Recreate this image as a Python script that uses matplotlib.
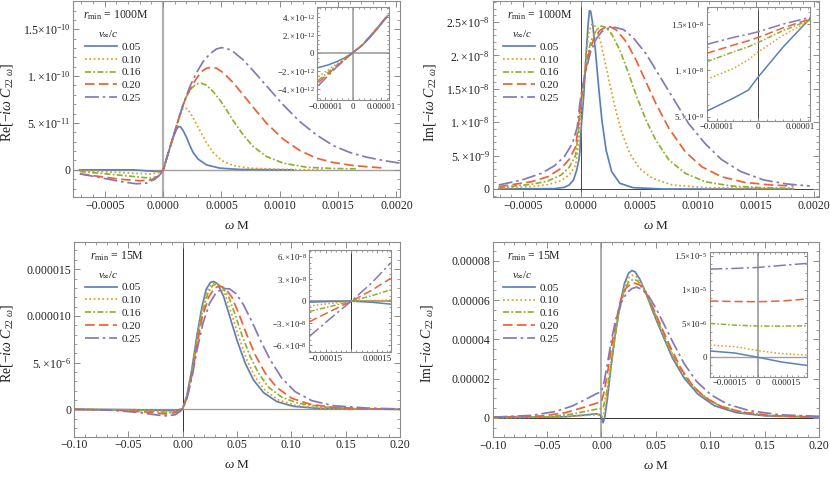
import matplotlib
matplotlib.use("Agg")
import matplotlib.pyplot as plt
from matplotlib.lines import Line2D
from matplotlib.ticker import FixedLocator, FixedFormatter, AutoMinorLocator

plt.rcParams['font.family'] = ['Liberation Serif', 'DejaVu Serif']
plt.rcParams['mathtext.fontset'] = 'custom'
plt.rcParams['mathtext.rm'] = 'Liberation Serif'
plt.rcParams['mathtext.it'] = 'Liberation Serif:italic'
plt.rcParams['mathtext.bf'] = 'Liberation Serif:bold'

speeds = ['0.05', '0.10', '0.16', '0.20', '0.25']
colors = ['#5E81B5', '#E19C24', '#8FB032', '#EB6235', '#8778B3']
styles = ['-', (0, (1, 1.5)), (0, (3.5, 1.3, 1, 1.3)), (0, (5.5, 2.5)), (0, (8, 2.2, 1.5, 2.2))]

# ---- r_min = 1000M, real part (x in 1e-5, y in 1e-11)
tl_blue_x = [-71.4, -25.7, -14.3, -2.9, 0, 2.9, 5.7, 8.6, 10.9, 12.9, 14.9, 17.1, 20.0, 22.9, 25.7, 30.0, 37.1, 48.6, 65.7, 111.4]
tl_blue_y = [0, 0, -0.11, -0.18, -0.04, 1.17, 2.31, 3.45, 4.15, 4.62, 4.58, 4.19, 3.48, 2.59, 1.85, 1.14, 0.53, 0.18, 0.04, 0]
tl_orange_x = [-71.4, -48.6, -25.7, -11.4, -4.3, 0, 2.9, 5.7, 8.6, 11.4, 14.3, 17.1, 20.0, 22.9, 25.7, 31.4, 37.1, 42.9, 50.0, 60.0, 74.3, 102.9, 137.1]
tl_orange_y = [-0.07, -0.21, -0.36, -0.43, -0.32, -0.07, 1.17, 2.31, 3.45, 4.55, 5.75, 6.6, 6.55, 6.15, 5.55, 4.19, 2.91, 1.85, 1.0, 0.46, 0.18, 0.04, 0]
tl_green_x = [-71.4, -48.6, -25.7, -11.4, -4.3, 0, 2.9, 5.7, 8.6, 11.4, 14.3, 17.1, 20.0, 24.3, 28.6, 32.9, 37.1, 42.9, 48.6, 54.3, 60.0, 68.6, 77.1, 88.6, 102.9, 122.9, 145.7, 165.7]
tl_green_y = [-0.18, -0.43, -0.71, -0.89, -0.71, -0.07, 1.17, 2.35, 3.52, 4.69, 5.86, 6.93, 7.82, 8.71, 9.17, 9.24, 9.03, 8.35, 7.46, 6.40, 5.26, 3.73, 2.49, 1.42, 0.71, 0.28, 0.14, 0.11]
tl_red_x = [-71.4, -54.3, -37.1, -20.0, -10.0, -4.3, 0, 2.9, 5.7, 8.6, 11.4, 14.3, 17.1, 20.0, 24.3, 28.6, 32.9, 37.1, 41.4, 45.7, 51.4, 60.0, 68.6, 77.1, 88.6, 102.9, 117.1, 131.4, 145.7, 162.9, 187.1]
tl_red_y = [-0.43, -0.71, -1.0, -1.17, -1.07, -0.71, -0.07, 1.17, 2.35, 3.52, 4.69, 5.86, 6.93, 7.82, 8.89, 9.77, 10.48, 10.84, 10.95, 10.84, 10.38, 9.31, 8.0, 6.68, 4.98, 3.27, 2.06, 1.24, 0.78, 0.46, 0.21]
tl_purple_x = [-71.4, -54.3, -37.1, -22.9, -14.3, -7.1, -2.9, 0, 2.9, 5.7, 8.6, 11.4, 14.3, 18.6, 22.9, 28.6, 34.3, 40.0, 45.7, 50.0, 54.3, 60.0, 68.6, 77.1, 88.6, 102.9, 117.1, 131.4, 145.7, 160.0, 174.3, 188.6, 202.9]
tl_purple_y = [-0.43, -0.82, -1.24, -1.49, -1.42, -1.0, -0.53, -0.07, 1.17, 2.35, 3.52, 4.69, 5.86, 7.46, 8.89, 10.38, 11.55, 12.37, 12.9, 13.04, 12.97, 12.62, 11.73, 10.59, 8.96, 6.93, 5.15, 3.73, 2.59, 1.85, 1.35, 1.0, 0.71]

# ---- r_min = 1000M, imaginary part (x in 1e-5, y in 1e-9)
tr_blue_x = [-70.8, -23.0, -14.6, -10.4, -6.7, -3.9, -2.0, -1.24, 0, 2.25, 4.2, 5.9, 7.0, 8.1, 9.6, 12.1, 14.9, 17.7, 21.3, 26.1, 33.1, 44.4, 69.7, 182.0]
tr_blue_y = [0, 0.05, 0.25, 0.6, 1.34, 2.84, 4.4, 5.6, 9.3, 14.3, 20.3, 24.7, 26.7, 26.6, 25.0, 20.8, 15.3, 10.3, 5.8, 2.6, 0.85, 0.2, 0, 0]
tr_orange_x = [-70.8, -42.7, -28.7, -17.4, -10.4, -4.8, -2.0, -1.24, 0, 2.25, 4.5, 6.7, 8.7, 10.7, 12.9, 16.3, 20.5, 24.7, 28.9, 34.6, 41.6, 50.0, 61.2, 78.1, 106.2, 182.0]
tr_orange_y = [0.1, 0.35, 0.65, 1.24, 2.09, 3.58, 7.2, 9.0, 12.0, 16.3, 20.8, 23.5, 24.6, 24.7, 24.1, 22.2, 19.0, 15.5, 12.3, 8.56, 5.32, 3.08, 1.59, 0.6, 0.2, 0.05]
tr_green_x = [-70.8, -42.7, -28.7, -17.4, -10.4, -4.8, -2.0, -1.24, 0, 2.25, 5.1, 8.4, 12.9, 16.9, 21.3, 26.1, 33.1, 40.2, 47.2, 55.6, 64.0, 75.3, 89.3, 106.2, 128.7, 153.9, 182.0]
tr_green_y = [0.2, 0.7, 1.19, 2.09, 3.23, 5.07, 9.3, 10.9, 13.0, 16.3, 19.8, 22.2, 23.8, 24.4, 24.2, 23.2, 20.8, 17.5, 14.0, 10.3, 7.31, 4.33, 2.34, 1.09, 0.45, 0.2, 0.1]
tr_red_x = [-70.8, -42.7, -28.7, -17.4, -10.4, -4.8, -2.0, -1.24, 0, 2.8, 6.5, 10.7, 15.7, 20.5, 24.7, 30.3, 38.8, 47.2, 55.6, 64.0, 75.3, 89.3, 103.4, 120.2, 139.9, 162.4, 182.0]
tr_red_y = [0.35, 1.09, 1.84, 3.08, 4.43, 6.32, 10.3, 11.8, 13.6, 16.8, 20.3, 22.5, 23.7, 24.2, 24.3, 23.8, 22.0, 19.25, 16.0, 12.8, 9.05, 5.57, 3.33, 1.84, 1.0, 0.6, 0.45]
tr_purple_x = [-70.8, -51.1, -34.3, -23.0, -14.6, -7.6, -3.4, -2.0, -1.24, 0, 3.65, 7.9, 12.9, 17.7, 23.3, 28.9, 36.0, 44.4, 55.6, 66.9, 78.1, 92.1, 106.2, 120.2, 137.1, 156.7, 176.4, 196.1]
tr_purple_y = [0.6, 1.34, 2.34, 3.48, 4.83, 6.82, 9.3, 11.6, 12.8, 14.2, 17.5, 20.5, 22.5, 23.6, 24.1, 24.2, 23.9, 22.7, 20.25, 17.0, 13.8, 9.8, 6.82, 4.43, 2.59, 1.34, 0.75, 0.45]

# ---- r_min = 15M, real part (x in 1e-2, y in 1e-6)
bl_blue_x = [-9.95, -4.5, -2.05, -0.67, 0, 0.4, 0.86, 1.32, 1.78, 2.17, 2.54, 2.85, 3.22, 3.77, 4.38, 4.99, 5.76, 6.52, 7.44, 8.67, 10.2, 12.34, 15.4, 20.0]
bl_blue_y = [0, -0.04, -0.11, -0.14, 0.07, 1.54, 4.39, 7.96, 11.0, 12.86, 13.57, 13.68, 13.43, 12.07, 9.75, 7.43, 4.93, 3.14, 1.79, 0.82, 0.32, 0.11, 0.04, 0]
bl_orange_x = [-9.95, -4.5, -2.36, -0.98, -0.37, 0, 0.4, 0.86, 1.32, 1.78, 2.24, 2.63, 3.0, 3.4, 3.92, 4.53, 5.15, 5.91, 6.68, 7.6, 8.82, 10.35, 12.65, 15.7, 20.0]
bl_orange_y = [0, -0.07, -0.14, -0.25, -0.14, 0.07, 1.43, 4.14, 7.6, 10.64, 12.6, 13.39, 13.57, 13.32, 12.25, 10.1, 7.79, 5.29, 3.43, 2.0, 1.0, 0.43, 0.14, 0.04, 0]
bl_green_x = [-9.95, -5.11, -2.66, -1.13, -0.37, 0, 0.4, 0.86, 1.32, 1.78, 2.3, 2.76, 3.15, 3.61, 4.23, 4.84, 5.45, 6.22, 6.98, 7.9, 9.13, 10.66, 12.96, 16.0, 20.0]
bl_green_y = [0, -0.07, -0.21, -0.36, -0.21, 0.07, 1.36, 3.93, 7.25, 10.21, 12.36, 13.25, 13.43, 13.14, 12.07, 10.1, 7.96, 5.64, 3.86, 2.36, 1.29, 0.64, 0.25, 0.07, 0]
bl_red_x = [-9.95, -5.73, -3.28, -1.59, -0.67, 0, 0.4, 0.86, 1.32, 1.78, 2.39, 2.91, 3.4, 3.92, 4.53, 5.15, 5.91, 6.68, 7.6, 8.67, 10.05, 11.73, 13.87, 16.9, 20.0]
bl_red_y = [0, -0.11, -0.29, -0.5, -0.36, 0.07, 1.29, 3.68, 6.89, 9.75, 12.0, 12.96, 13.21, 12.96, 12.0, 10.28, 7.96, 5.82, 3.86, 2.32, 1.18, 0.54, 0.21, 0.07, 0]
bl_purple_x = [-9.95, -6.34, -3.89, -2.36, -1.44, -0.67, -0.21, 0, 0.4, 0.86, 1.32, 1.87, 2.48, 3.09, 3.71, 4.32, 4.93, 5.6, 6.37, 7.14, 8.06, 9.13, 10.35, 11.88, 13.87, 16.9, 20.0]
bl_purple_y = [0, -0.11, -0.36, -0.61, -0.71, -0.57, -0.21, 0.07, 1.18, 3.43, 6.36, 9.21, 11.36, 12.5, 12.93, 12.89, 12.36, 11.18, 9.39, 7.43, 5.29, 3.32, 1.89, 0.93, 0.39, 0.14, 0.04]

# ---- r_min = 15M, imaginary part (x in 1e-2, y in 1e-5)
br_blue_x = [-9.95, -6.36, -3.29, -1.44, -0.52, -0.15, 0, 0.15, 0.31, 0.55, 0.86, 1.26, 1.69, 2.12, 2.49, 2.8, 3.1, 3.53, 4.09, 4.85, 5.62, 6.54, 7.62, 8.85, 10.38, 12.38, 15.15, 20.06]
br_blue_y = [0, 0.02, 0.05, 0.14, 0.2, 0.15, 0, -0.26, 0.05, 0.99, 2.52, 4.22, 5.75, 6.86, 7.37, 7.51, 7.44, 7.06, 6.35, 5.24, 4.22, 3.03, 2.01, 1.21, 0.61, 0.26, 0.09, 0.02]
br_orange_x = [-9.95, -4.82, -2.37, -0.83, -0.22, 0, 0.15, 0.4, 0.71, 1.11, 1.54, 2.0, 2.43, 2.8, 3.16, 3.63, 4.18, 4.95, 5.78, 6.7, 7.77, 9.0, 10.54, 12.53, 15.3, 20.06]
br_orange_y = [0, 0.03, 0.09, 0.14, 0.15, 0.09, 0.05, 0.73, 2.01, 3.71, 5.33, 6.52, 7.1, 7.27, 7.22, 6.92, 6.31, 5.19, 4.1, 2.98, 2.01, 1.28, 0.7, 0.31, 0.1, 0.02]
br_green_x = [-9.95, -4.82, -2.67, -1.14, -0.22, 0, 0.18, 0.46, 0.8, 1.2, 1.63, 2.09, 2.49, 2.89, 3.29, 3.78, 4.39, 5.16, 5.99, 6.91, 8.02, 9.25, 10.78, 12.69, 15.45, 20.06]
br_green_y = [0, 0.05, 0.19, 0.36, 0.46, 0.46, 0.56, 1.24, 2.43, 3.97, 5.41, 6.49, 6.92, 7.05, 7.0, 6.68, 6.0, 4.99, 3.88, 2.81, 1.84, 1.14, 0.63, 0.31, 0.12, 0.03]
br_red_x = [-9.95, -5.44, -3.29, -1.75, -0.52, 0, 0.25, 0.55, 0.92, 1.32, 1.78, 2.24, 2.7, 3.1, 3.53, 4.09, 4.76, 5.56, 6.39, 7.31, 8.39, 9.62, 11.15, 13.15, 15.76, 20.06]
br_red_y = [0.02, 0.09, 0.26, 0.51, 0.73, 0.82, 1.33, 2.26, 3.63, 4.9, 6.01, 6.6, 6.84, 6.86, 6.77, 6.38, 5.58, 4.56, 3.54, 2.52, 1.62, 0.99, 0.53, 0.26, 0.1, 0.03]
br_purple_x = [-9.95, -6.36, -4.21, -2.67, -1.44, -0.52, 0, 0.25, 0.55, 0.92, 1.32, 1.78, 2.3, 2.8, 3.23, 3.72, 4.33, 5.01, 5.78, 6.61, 7.62, 8.76, 10.08, 11.61, 13.61, 16.37, 20.06]
br_purple_y = [0.03, 0.12, 0.32, 0.6, 0.94, 1.21, 1.33, 1.84, 2.77, 3.97, 5.02, 5.84, 6.35, 6.59, 6.66, 6.55, 6.21, 5.58, 4.73, 3.8, 2.74, 1.84, 1.16, 0.68, 0.36, 0.15, 0.07]

# ---- insets
tli_x = [-1.25, -0.9, -0.6, -0.3, 0, 0.3, 0.6, 0.9, 1.25]          # 1e-5
tli_blue = [-1.6, -1.3, -0.95, -0.5, 0.1, 0.8, 1.75, 2.85, 4.2]     # 1e-12
tli_orange = [-2.6, -1.85, -1.2, -0.6, 0.1, 0.85, 1.85, 2.95, 4.25]
tli_green = [-3.0, -2.1, -1.35, -0.65, 0.1, 0.85, 1.85, 2.95, 4.25]
tli_red = [-3.25, -2.3, -1.45, -0.7, 0.1, 0.85, 1.85, 2.95, 4.25]
tli_purple = [-3.6, -2.5, -1.55, -0.72, 0.1, 0.87, 1.88, 2.98, 4.28]

tri_x = [-1.24, -0.6, -0.24, 0, 0.6, 1.24]                          # 1e-5
tri_blue = [5.6, 7.0, 7.87, 9.31, 12.55, 15.6]                      # 1e-9
tri_orange = [9.03, 10.2, 11.15, 12.0, 13.8, 15.36]
tri_green = [10.93, 12.0, 12.55, 13.02, 14.3, 15.43]
tri_red = [11.84, 12.73, 13.2, 13.56, 14.6, 15.54]
tri_purple = [12.8, 13.56, 13.9, 14.17, 15.0, 15.72]

bli_x = [-2.45, -1.2, 0, 1.2, 2.3]                                   # 1e-4
bli_blue = [-0.14, -0.05, 0, -0.15, -0.4]                            # 1e-8
bli_orange = [-0.64, -0.3, 0, 0.1, 0.15]
bli_green = [-1.4, -0.7, 0, 0.75, 1.55]
bli_red = [-2.8, -1.35, 0, 1.5, 3.1]
bli_purple = [-4.8, -2.3, 0, 2.5, 5.2]

bri_x = [-2.56, -1.25, 0, 1.25, 2.56]                                # 1e-4
bri_blue = [0.85, 0.55, -0.1, -0.8, -1.29]                           # 1e-6
bri_orange = [1.74, 1.5, 0.9, 0.45, 0.25]
bri_green = [4.96, 4.7, 4.57, 4.55, 4.61]
bri_red = [8.29, 8.22, 8.19, 8.3, 8.59]
bri_purple = [13.05, 13.15, 13.3, 13.6, 13.9]

W, H = 830, 480
fig = plt.figure(figsize=(W / 100, H / 100), dpi=100)
FRAME = '#8c8c8c'
TXT = '#222222'


def box(x0, y0, x1, y1):
    return fig.add_axes([x0 / W, 1 - y1 / H, (x1 - x0) / W, (y1 - y0) / H])


def style_axes(ax, size, nx, ny, tick_len=4):
    for s in ax.spines.values():
        s.set_color(FRAME)
        s.set_linewidth(0.8)
    ax.tick_params(which='both', direction='in', top=True, right=True,
                   color=FRAME, labelcolor=TXT, labelsize=size, pad=2)
    ax.tick_params(which='major', length=tick_len, width=0.7)
    ax.tick_params(which='minor', length=tick_len / 2, width=0.6)
    ax.xaxis.set_minor_locator(AutoMinorLocator(nx))
    ax.yaxis.set_minor_locator(AutoMinorLocator(ny))


def set_ticks(ax, xt, xtl, yt, ytl):
    ax.xaxis.set_major_locator(FixedLocator(xt))
    ax.xaxis.set_major_formatter(FixedFormatter(xtl))
    ax.yaxis.set_major_locator(FixedLocator(yt))
    ax.yaxis.set_major_formatter(FixedFormatter(ytl))


def main_panel(rect, curves, xu, yu, xlim, ylim, xt, xtl, yt, ytl, ny, ylab, rmin,
               vline, hline, ylab_x, rmin_x, leg_x, title_x):
    ax = box(*rect)
    ax.axvline(0, color=vline[0], lw=vline[1], zorder=1)
    ax.axhline(0, color=hline[0], lw=hline[1], zorder=1)
    for (xs, ys), c, ls in zip(curves, colors, styles):
        ax.plot([v * xu for v in xs], [v * yu for v in ys], color=c, ls=ls, lw=1.25, zorder=3)
    ax.set_xlim(xlim)
    ax.set_ylim(ylim)
    style_axes(ax, 8.5, 5, ny)
    set_ticks(ax, xt, xtl, yt, ytl)
    ax.set_xlabel(r'$\omega\ $M', fontsize=9.5, color=TXT)
    ax.xaxis.set_label_coords(0.5, -0.115)
    ax.set_ylabel(ylab, fontsize=10, color=TXT)
    ax.yaxis.set_label_coords(ylab_x, 0.48)
    ax.text(rmin_x, 0.925, rmin, transform=ax.transAxes, fontsize=8.5, color=TXT, va='center')
    ax.text(title_x, 0.83, r'$v_\infty/c$', transform=ax.transAxes, fontsize=8,
            color=TXT, ha='center', va='center')
    handles = [Line2D([], [], color=c, ls=ls, lw=1.25) for c, ls in zip(colors, styles)]
    leg = ax.legend(handles, speeds, loc='upper left', bbox_to_anchor=(leg_x, 0.79),
                    frameon=False, fontsize=8, handlelength=2.9, handletextpad=0.35,
                    labelspacing=0.28, borderpad=0, borderaxespad=0)
    for t in leg.get_texts():
        t.set_color(TXT)
    return ax


def inset(rect, xs, ys_list, xu, yu, xlim, ylim, xt, xtl, yt, ytl, vline, hline):
    ax = box(*rect)
    ax.set_zorder(5)
    ax.set_facecolor('white')
    ax.axvline(0, color=vline[0], lw=vline[1], zorder=1)
    ax.axhline(0, color=hline[0], lw=hline[1], zorder=1)
    for ys, c, ls in zip(ys_list, colors, styles):
        ax.plot([v * xu for v in xs], [v * yu for v in ys], color=c, ls=ls, lw=1.1, zorder=3)
    ax.set_xlim(xlim)
    ax.set_ylim(ylim)
    style_axes(ax, 6.3, 5, 4, tick_len=2.5)
    set_ticks(ax, xt, xtl, yt, ytl)
    return ax


re_lab = r'Re$[-i\omega\ C_{22\ \omega}]$'
im_lab = r'Im$[-i\omega\ C_{22\ \omega}]$'
top_xt = [-0.0005, 0, 0.0005, 0.001, 0.0015, 0.002]
top_xtl = ['\u22120.0005', '0.0000', '0.0005', '0.0010', '0.0015', '0.0020']
bot_xt = [-0.1, -0.05, 0, 0.05, 0.1, 0.15, 0.2]
bot_xtl = ['\u22120.10', '\u22120.05', '0.00', '0.05', '0.10', '0.15', '0.20']

main_panel((73.3, 0.7, 400, 197),
           [(tl_blue_x, tl_blue_y), (tl_orange_x, tl_orange_y), (tl_green_x, tl_green_y),
            (tl_red_x, tl_red_y), (tl_purple_x, tl_purple_y)],
           1e-5, 1e-11, (-0.00077, 0.00203), (-2.9e-11, 1.805e-10), top_xt, top_xtl,
           [0, 5e-11, 1e-10, 1.5e-10],
           ['0', r'$5.{\times}10^{-11}$', r'$1.{\times}10^{-10}$', r'$1.5{\times}10^{-10}$'],
           5, re_lab, r'$r_{\rm min}$ = 1000M', ('#b0b0b0', 1.6), ('#a0a0a0', 1.0),
           -0.178, 0.031, 0.036, 0.106)

main_panel((492.7, 0.7, 819, 197),
           [(tr_blue_x, tr_blue_y), (tr_orange_x, tr_orange_y), (tr_green_x, tr_green_y),
            (tr_red_x, tr_red_y), (tr_purple_x, tr_purple_y)],
           1e-5, 1e-9, (-0.00076, 0.00204), (-1.2e-9, 2.82e-8), top_xt, top_xtl,
           [0, 5e-9, 1e-8, 1.5e-8, 2e-8, 2.5e-8],
           ['0', r'$5.{\times}10^{-9}$', r'$1.{\times}10^{-8}$', r'$1.5{\times}10^{-8}$',
            r'$2.{\times}10^{-8}$', r'$2.5{\times}10^{-8}$'],
           5, im_lab, r'$r_{\rm min}$ = 1000M', ('#444444', 0.7), ('#444444', 0.7),
           -0.168, 0.043, 0.032, 0.091)

main_panel((74, 241.7, 400, 436.7),
           [(bl_blue_x, bl_blue_y), (bl_orange_x, bl_orange_y), (bl_green_x, bl_green_y),
            (bl_red_x, bl_red_y), (bl_purple_x, bl_purple_y)],
           1e-2, 1e-6, (-0.1, 0.2), (-2.93e-6, 1.794e-5), bot_xt, bot_xtl,
           [0, 5e-6, 1e-5, 1.5e-5],
           ['0', r'$5.{\times}10^{-6}$', '0.000010', '0.000015'],
           5, re_lab, r'$r_{\rm min}$ = 15M', ('#333333', 0.7), ('#999999', 0.9),
           -0.18, 0.049, 0.034, 0.105)

main_panel((492.7, 241.7, 819, 437.3),
           [(br_blue_x, br_blue_y), (br_orange_x, br_orange_y), (br_green_x, br_green_y),
            (br_red_x, br_red_y), (br_purple_x, br_purple_y)],
           1e-2, 1e-5, (-0.1, 0.2), (-1.0e-5, 8.98e-5), bot_xt, bot_xtl,
           [0, 2e-5, 4e-5, 6e-5, 8e-5],
           ['0', '0.00002', '0.00004', '0.00006', '0.00008'],
           4, im_lab, r'$r_{\rm min}$ = 15M', ('#a0a0a0', 1.2), ('#333333', 0.7),
           -0.177, 0.043, 0.032, 0.091)

inset((317.3, 7.3, 389, 100), tli_x,
      [tli_blue, tli_orange, tli_green, tli_red, tli_purple],
      1e-5, 1e-12, (-1.29e-5, 1.28e-5), (-5.2e-12, 5.1e-12),
      [-1e-5, 0, 1e-5], ['\u22120.00001', '0', '0.00001'],
      [-4e-12, -2e-12, 0, 2e-12, 4e-12],
      [r'$-4.{\times}10^{-12}$', r'$-2.{\times}10^{-12}$', '0',
       r'$2.{\times}10^{-12}$', r'$4.{\times}10^{-12}$'],
      ('#a0a0a0', 1.2), ('#a0a0a0', 1.2))

inset((706.7, 6.7, 810, 120.7), tri_x,
      [tri_blue, tri_orange, tri_green, tri_red, tri_purple],
      1e-5, 1e-9, (-1.24e-5, 1.24e-5), (4.57e-9, 1.687e-8),
      [-1e-5, 0, 1e-5], ['\u22120.00001', '0', '0.00001'],
      [5e-9, 1e-8, 1.5e-8],
      [r'$5.{\times}10^{-9}$', r'$1.{\times}10^{-8}$', r'$1.5{\times}10^{-8}$'],
      ('#444444', 0.7), ('#a0a0a0', 1.0))

inset((309.3, 250, 390.7, 352), bli_x,
      [bli_blue, bli_orange, bli_green, bli_red, bli_purple],
      1e-4, 1e-8, (-2.45e-4, 2.3e-4), (-6.9e-8, 6.95e-8),
      [-1.5e-4, 0, 1.5e-4], ['\u22120.00015', '', '0.00015'],
      [-6e-8, -3e-8, 0, 3e-8, 6e-8],
      [r'$-6.{\times}10^{-8}$', r'$-3.{\times}10^{-8}$', '0',
       r'$3.{\times}10^{-8}$', r'$6.{\times}10^{-8}$'],
      ('#333333', 0.7), ('#a0a0a0', 1.4))

inset((710, 251.7, 806.7, 376.7), bri_x,
      [bri_blue, bri_orange, bri_green, bri_red, bri_purple],
      1e-4, 1e-6, (-2.56e-4, 2.56e-4), (-2.98e-6, 1.564e-5),
      [-1.5e-4, 0, 1.5e-4], ['\u22120.00015', '0', '0.00015'],
      [0, 5e-6, 1e-5, 1.5e-5],
      ['0', r'$5{\times}10^{-6}$', r'$1{\times}10^{-5}$', r'$1.5{\times}10^{-5}$'],
      ('#a0a0a0', 1.3), ('#a0a0a0', 1.0))

fig.savefig('out.png', dpi=100)
